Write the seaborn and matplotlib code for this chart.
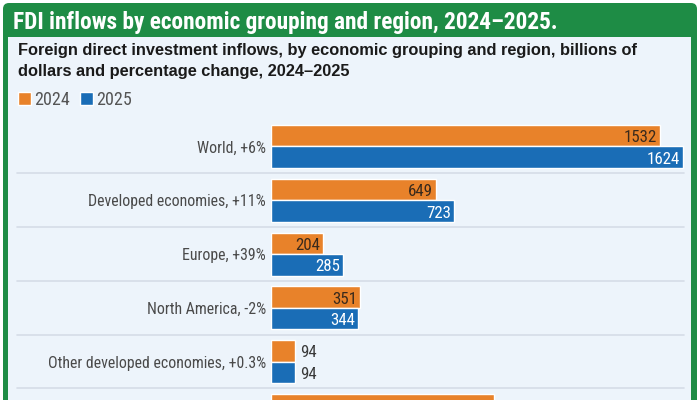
import os
import numpy as np
import pandas as pd
import matplotlib
matplotlib.use("Agg")
import matplotlib.pyplot as plt
import matplotlib.transforms as mtransforms
from matplotlib import font_manager as fm
from matplotlib.patches import FancyBboxPatch, Rectangle
from matplotlib.lines import Line2D
import seaborn as sns

# data (billions of dollars)
regions = ["World, +6%", "Developed economies, +11%", "Europe, +39%",
           "North America, -2%", "Other developed economies, +0.3%",
           "Developing economies"]
v2024 = [1532, 649, 204, 351, 94, 880]
v2025 = [1624, 723, 285, 344, 94, np.nan]
years = ["2024", "2025"]

title = "FDI inflows by economic grouping and region, 2024\u20132025."
subtitle1 = "Foreign direct investment inflows, by economic grouping and region, billions of"
subtitle2 = "dollars and percentage change, 2024\u20132025"

ORANGE = "#E8822A"
BLUE = "#1A6DB6"
GREEN = "#1E8C45"
PANEL = "#EDF4FB"

sns.set_style("white")
plt.rcParams["font.family"] = ["Liberation Sans", "DejaVu Sans"]


# look for a condensed / narrow face among the installed fonts
def condensed_font(bold):
    prefs = ["roboto", "liberation", "opensans", "open sans", "noto", "dejavu", ""]
    found = []
    for f in fm.fontManager.ttflist:
        fn = os.path.basename(f.fname).lower()
        narrow = ("condensed" in fn or "narrow" in fn or "cond" in fn
                  or str(f.stretch) in ("condensed", "semi-condensed", "extra-condensed"))
        if not narrow or f.style != "normal":
            continue
        w = f.weight if isinstance(f.weight, int) else (700 if "bold" in str(f.weight) else 400)
        if "light" in fn or "thin" in fn or "black" in fn or "medium" in fn:
            continue
        if bold != (w >= 600):
            continue
        rank = next(i for i, p in enumerate(prefs) if p in fn or p in f.name.lower())
        found.append((rank, f.fname))
    if found:
        found.sort()
        return fm.FontProperties(fname=found[0][1])
    return fm.FontProperties(family="DejaVu Sans", weight="bold" if bold else "normal")


cond_reg = condensed_font(False)
cond_bold = condensed_font(True)

df = pd.DataFrame({
    "region": regions * 2,
    "year": [years[0]] * len(regions) + [years[1]] * len(regions),
    "value": v2024 + v2025,
})

fig = plt.figure(figsize=(7, 4), dpi=100)

# background frame, drawn in pixel coords
bg = fig.add_axes([0, 0, 1, 1])
bg.set_xlim(0, 700)
bg.set_ylim(400, 0)
bg.axis("off")
bg.add_patch(FancyBboxPatch((3, 3), 694, 420, boxstyle="round,pad=0,rounding_size=6",
                            fc=GREEN, ec="none"))
bg.add_patch(Rectangle((8, 37), 683, 400, fc=PANEL, ec="none"))

tp = cond_bold.copy()
tp.set_size(16.8)
bg.text(13, 29, title, color="white", fontproperties=tp, va="baseline", ha="left")
bg.text(18, 55, subtitle1, color="#1a1a1a", fontsize=11.8, fontweight="bold",
        va="baseline", ha="left")
bg.text(18, 76, subtitle2, color="#1a1a1a", fontsize=11.8, fontweight="bold",
        va="baseline", ha="left")

# main chart
ax = fig.add_axes([271 / 700, 0, 419 / 700, 290 / 400])
ax.patch.set_alpha(0)
sns.barplot(data=df, y="region", x="value", hue="year", orient="h",
            palette=[ORANGE, BLUE], width=0.8, saturation=1, ax=ax)
ax.set_xlim(0, 1652)
ax.set_ylim(4.716, -0.679)
sns.despine(ax=ax, left=True, bottom=True)
ax.set_xticks([])
ax.set_xlabel("")
ax.set_ylabel("")
ax.tick_params(axis="y", length=0, pad=3.6, labelcolor="#4a4a4a")
lp = cond_reg.copy()
lp.set_size(11.4)
for lbl in ax.get_yticklabels():
    lbl.set_fontproperties(lp)

# separator lines between groups, running under the labels too
trans = mtransforms.blended_transform_factory(bg.transData, ax.transData)
for k in range(len(regions) - 1):
    ax.add_line(Line2D([17, 684], [k + 0.5, k + 0.5], transform=trans,
                       color="#d5dde7", lw=1.2, clip_on=False, zorder=0))

# value labels
vp = cond_reg.copy()
vp.set_size(12.2)
for c, cont in enumerate(ax.containers):
    for p in cont.patches:
        w = p.get_width()
        if np.isnan(w):
            continue
        yc = p.get_y() + p.get_height() / 2
        if w > 150:
            col = "#3a2a1c" if c == 0 else "white"
            ax.annotate(f"{w:.0f}", (w, yc), xytext=(-2, -1.5), textcoords="offset points",
                        ha="right", va="center", fontproperties=vp, color=col)
        else:
            ax.annotate(f"{w:.0f}", (w, yc), xytext=(3.5, -1.5), textcoords="offset points",
                        ha="left", va="center", fontproperties=vp, color="#3a3a3a")

gp = cond_reg.copy()
gp.set_size(13)
leg = ax.legend(loc="upper left", bbox_to_anchor=(18 / 700, 1 - 91 / 400),
                bbox_transform=fig.transFigure, ncol=2, frameon=False,
                handlelength=0.72, handleheight=0.72, handletextpad=0.15,
                columnspacing=0.6, borderpad=0, borderaxespad=0, prop=gp)
for t in leg.get_texts():
    t.set_color("#555555")

fig.savefig("out.png", dpi=100)
